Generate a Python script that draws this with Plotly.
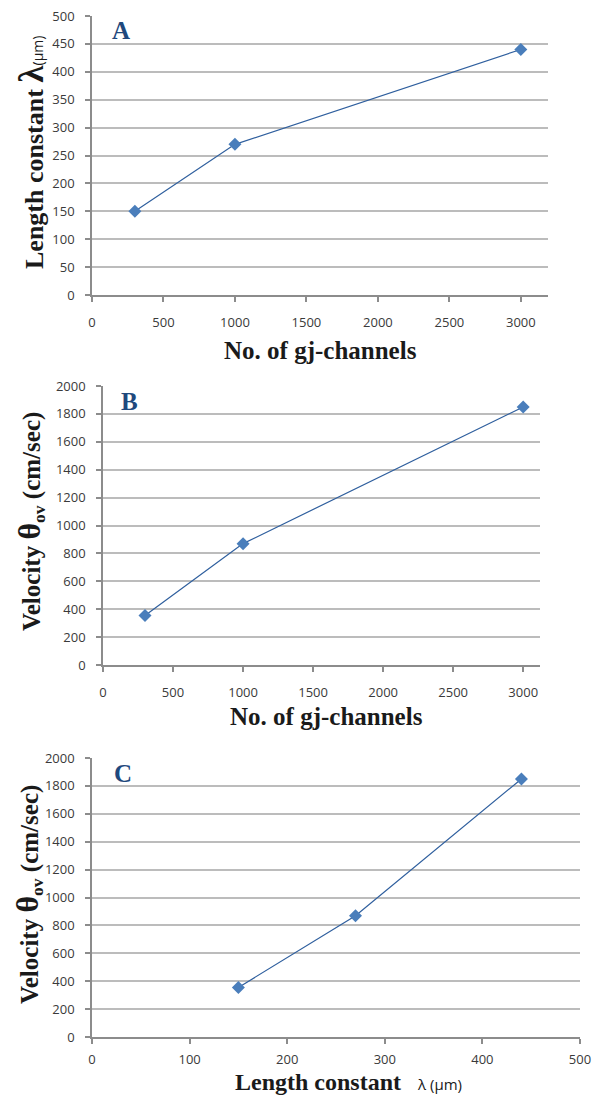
import plotly.graph_objects as go

# Data
gj_channels = [300, 1000, 3000]
length_constant = [150, 270, 440]
velocity = [355, 870, 1850]

x_ticks_gj = [0, 500, 1000, 1500, 2000, 2500, 3000]
y_ticks_len = [0, 50, 100, 150, 200, 250, 300, 350, 400, 450, 500]
y_ticks_vel = [0, 200, 400, 600, 800, 1000, 1200, 1400, 1600, 1800, 2000]
x_ticks_len = [0, 100, 200, 300, 400, 500]

PAGE_W, PAGE_H = 600, 1105
OFF = 8  # default body margin of the html page
W, H = PAGE_W - 2 * OFF, PAGE_H - 2 * OFF
MARK = "#4a7ebb"
LINE = "#2f5f9e"
GRID = "#bcbcbc"
AXIS = "#8c8c8c"
TICKFONT = dict(family="Open Sans, Lato, sans-serif", size=13, color="#3a3a3a")
SERIF = "Liberation Serif, Times New Roman, serif"


def px(x):
    return (x - OFF) / W


def py(y):
    return 1 - (y - OFF) / H


fig = go.Figure()

panels = [
    dict(x=gj_channels, y=length_constant, xd=(92, 548), yd=(16, 295), xr=[0, 3190], yr=[0, 500],
         xt=x_ticks_gj, yt=y_ticks_len, letter="A", lx=121, ly=31, so=10),
    dict(x=gj_channels, y=velocity, xd=(103, 540), yd=(386, 665), xr=[0, 3120], yr=[0, 2000],
         xt=x_ticks_gj, yt=y_ticks_vel, letter="B", lx=129, ly=401, so=10),
    dict(x=length_constant, y=velocity, xd=(92, 580), yd=(758, 1037), xr=[0, 500], yr=[0, 2000],
         xt=x_ticks_len, yt=y_ticks_vel, letter="C", lx=123, ly=773, so=5),
]

layout_axes = {}
for i, p in enumerate(panels, start=1):
    xa = "x" if i == 1 else f"x{i}"
    ya = "y" if i == 1 else f"y{i}"
    fig.add_trace(go.Scatter(
        x=p["x"], y=p["y"], xaxis=xa, yaxis=ya, mode="lines+markers",
        line=dict(color=LINE, width=1.2),
        marker=dict(symbol="diamond", size=10, color=MARK),
        showlegend=False, cliponaxis=False,
    ))
    layout_axes[f"xaxis{'' if i == 1 else i}"] = dict(
        domain=[px(p["xd"][0]), px(p["xd"][1])], anchor=ya, range=p["xr"],
        tickvals=p["xt"], showgrid=False, zeroline=False, automargin=False,
        showline=True, linecolor=AXIS, linewidth=1.5,
        ticks="outside", ticklen=5, tickcolor=AXIS, tickwidth=1.5,
        tickfont=TICKFONT, ticklabelstandoff=p["so"], ticklabeloverflow="allow",
    )
    layout_axes[f"yaxis{'' if i == 1 else i}"] = dict(
        domain=[py(p["yd"][1]), py(p["yd"][0])], anchor=xa, range=p["yr"],
        tickvals=p["yt"], showgrid=True, gridcolor=GRID, gridwidth=1.5, zeroline=False,
        automargin=False,
        showline=True, linecolor=AXIS, linewidth=1.5,
        ticks="outside", ticklen=5, tickcolor=AXIS, tickwidth=1.5,
        tickfont=TICKFONT, ticklabelstandoff=8, ticklabeloverflow="allow",
    )
    fig.add_annotation(
        x=px(p["lx"]), y=py(p["ly"]), xref="paper", yref="paper",
        text=f"<b>{p['letter']}</b>", showarrow=False,
        xanchor="center", yanchor="middle",
        font=dict(family=SERIF, size=25, color="#1f497d"),
    )

fig.update_layout(**layout_axes)

TITLE = dict(family=SERIF, size=25, color="#1a1a1a")

annotations = [
    dict(x=px(31), y=py(153),
         text="<b><span style='font-size:26px'>Length constant </span></b><b><span style='font-size:35px'>λ</span></b>"
              "<span style='font-size:14px;font-family:Open Sans'>(μm)</span>",
         textangle=-90),
    dict(x=px(30), y=py(522),
         text="<b>Velocity </b><b><span style='font-size:32px'>θ</span><sub>ov</sub> (cm/sec)</b>",
         textangle=-90),
    dict(x=px(28), y=py(895),
         text="<b>Velocity </b><b><span style='font-size:32px'>θ</span><sub>ov</sub> (cm/sec)</b>",
         textangle=-90),
    dict(x=px(320), y=py(350), text="<b>No. of gj-channels</b>", textangle=0),
    dict(x=px(326), y=py(716), text="<b>No. of gj-channels</b>", textangle=0),
    dict(x=px(349), y=py(1082),
         text="<b><span style='font-size:24px'>Length constant </span></b>  <span style='font-size:15px;font-family:Open Sans'>λ (μm)</span>",
         textangle=0, font=dict(family=SERIF, size=22, color="#1a1a1a")),
]
for a in annotations:
    a.setdefault("font", TITLE)
    fig.add_annotation(xref="paper", yref="paper", showarrow=False,
                       xanchor="center", yanchor="middle", **a)

fig.update_layout(
    width=W, height=H, margin=dict(l=0, r=0, t=0, b=0, autoexpand=False),
    paper_bgcolor="white", plot_bgcolor="white",
)

fig.write_html("out.html")
